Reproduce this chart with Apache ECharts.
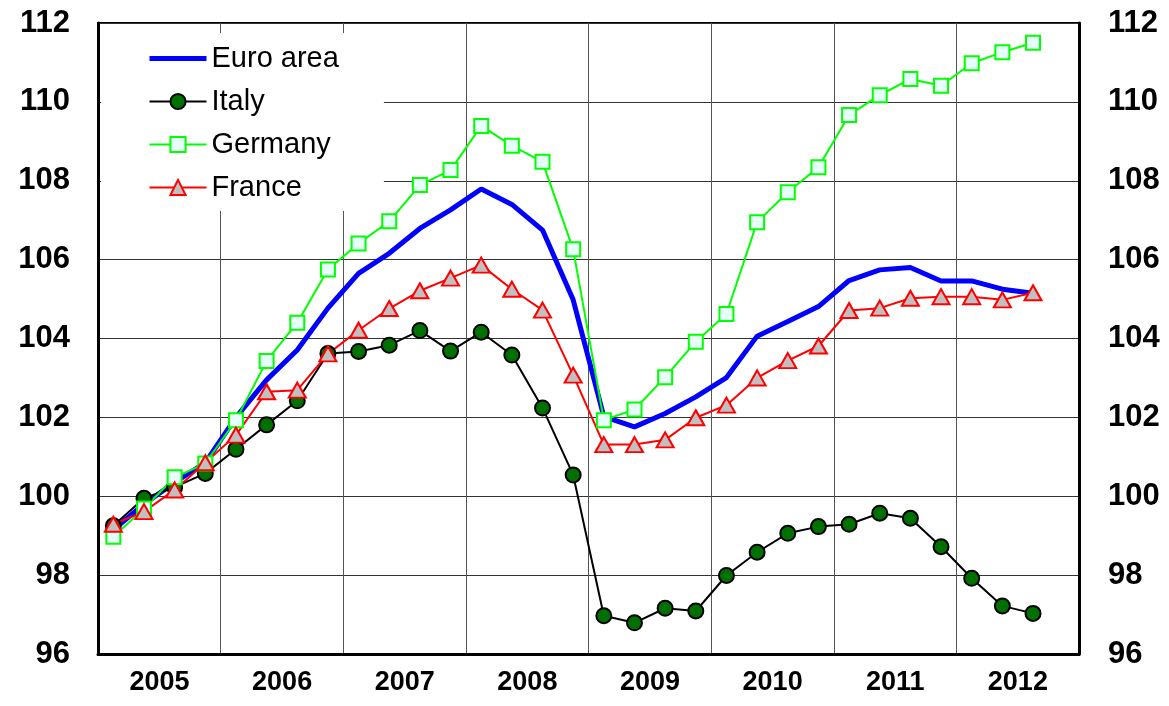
<!DOCTYPE html>
<html>
<head>
<meta charset="utf-8">
<script src="https://cdn.jsdelivr.net/npm/echarts@6/dist/echarts.min.js"></script>
<style>
  html, body { margin: 0; padding: 0; background: #fff; }
  #main { width: 1169px; height: 706px; }
</style>
</head>
<body>
<div id="main"></div>
<script>
// years on the axis, each split into quarters
var years = ['2005', '2006', '2007', '2008', '2009', '2010', '2011', '2012'];
var quarterNames = ['Q1', 'Q2', 'Q3', 'Q4'];

// index values, 2005Q1 .. 2012Q3
var euroArea = [99.15, 99.8, 100.35, 100.85, 102.0, 102.95, 103.71, 104.77, 105.65, 106.16,
  106.79, 107.26, 107.79, 107.4, 106.75, 104.98, 102.02, 101.76, 102.1, 102.52,
  103.01, 104.06, 104.43, 104.81, 105.47, 105.74, 105.8, 105.46, 105.46, 105.25, 105.15];
var italy = [99.25, 99.95, 100.23, 100.58, 101.19, 101.81, 102.42, 103.62, 103.67, 103.83,
  104.2, 103.68, 104.16, 103.58, 102.24, 100.54, 96.97, 96.79, 97.16, 97.09,
  97.99, 98.58, 99.06, 99.23, 99.29, 99.57, 99.44, 98.72, 97.92, 97.22, 97.03];
var germany = [98.97, 99.69, 100.48, 100.83, 101.93, 103.43, 104.4, 105.75, 106.41, 106.97,
  107.89, 108.27, 109.39, 108.89, 108.48, 106.26, 101.93, 102.2, 103.02, 103.92,
  104.62, 106.95, 107.71, 108.34, 109.67, 110.17, 110.58, 110.41, 110.98, 111.26, 111.5];
var france = [99.29, 99.61, 100.16, 100.85, 101.55, 102.65, 102.69, 103.61, 104.21, 104.76,
  105.21, 105.53, 105.86, 105.25, 104.72, 103.07, 101.31, 101.31, 101.43, 101.99,
  102.31, 103.0, 103.44, 103.81, 104.71, 104.77, 105.02, 105.06, 105.06, 104.98, 105.16];

var quarters = [];
years.forEach(function (y) {
  quarterNames.forEach(function (q) { quarters.push(y + q); });
});

var myChart = echarts.init(document.getElementById('main'));

var yLabel = {
  fontFamily: 'Liberation Sans, Arial, sans-serif',
  fontWeight: 'bold',
  fontSize: 31,
  color: '#000'
};

var option = {
  animation: false,
  backgroundColor: '#fff',
  grid: {
    left: 98, right: 90, top: 23, bottom: 52,
    show: true, borderColor: '#000', borderWidth: 2
  },
  legend: {
    orient: 'vertical',
    left: 101,
    top: 33,
    backgroundColor: '#fff',
    padding: [11, 45, 9, 46],
    itemWidth: 57,
    itemHeight: 19,
    itemGap: 14,
    lineStyle: { width: 2 },
    textStyle: {
      fontFamily: 'Liberation Sans, Arial, sans-serif',
      fontSize: 29,
      color: '#000'
    },
    data: [
      // blue line only, hide the marker
      { name: 'Euro area', itemStyle: { opacity: 0 }, lineStyle: { width: 5 } },
      { name: 'Italy', itemStyle: { borderWidth: 2 }, lineStyle: { width: 2 } },
      { name: 'Germany', itemStyle: { borderWidth: 2 }, lineStyle: { width: 2 } },
      { name: 'France', itemStyle: { borderWidth: 2 }, lineStyle: { width: 2 } }
    ]
  },
  xAxis: {
    type: 'category',
    data: quarters,
    boundaryGap: true,
    axisLine: { lineStyle: { color: '#000', width: 3 } },
    axisTick: { interval: 0, inside: true, length: 9, lineStyle: { color: '#808080', width: 1 } },
    axisLabel: {
      interval: function (i) { return i % 4 === 1; },
      formatter: function (v) { return v.slice(0, 4); },
      padding: [0, 0, 0, 31],
      margin: 15,
      fontFamily: 'Liberation Sans, Arial, sans-serif',
      fontWeight: 'bold',
      fontSize: 27,
      color: '#000'
    },
    splitLine: {
      show: true,
      interval: function (i) { return i % 4 === 0; },
      lineStyle: { color: '#555', width: 1 }
    }
  },
  yAxis: [{
    type: 'value',
    min: 96, max: 112, interval: 2,
    axisLine: { show: true, lineStyle: { color: '#000', width: 3 } },
    axisTick: { show: false },
    axisLabel: Object.assign({ margin: 28 }, yLabel),
    splitLine: { lineStyle: { color: '#333', width: 1 } }
  }, {
    type: 'value',
    position: 'right',
    min: 96, max: 112, interval: 2,
    axisLine: { show: true, lineStyle: { color: '#000', width: 3 } },
    axisTick: { show: false },
    axisLabel: Object.assign({ margin: 29 }, yLabel),
    splitLine: { show: false }
  }],
  series: [{
    name: 'Euro area',
    type: 'line',
    data: euroArea,
    symbol: 'none',
    lineStyle: { color: '#0000ff', width: 5 },
    itemStyle: { color: '#0000ff' }
  }, {
    name: 'Italy',
    type: 'line',
    data: italy,
    symbol: 'circle',
    symbolSize: 15,
    showAllSymbol: true,
    lineStyle: { color: '#000', width: 2 },
    itemStyle: { color: '#007000', borderColor: '#000', borderWidth: 2 }
  }, {
    name: 'Germany',
    type: 'line',
    data: germany,
    symbol: 'rect',
    symbolSize: 14,
    showAllSymbol: true,
    lineStyle: { color: '#00ff00', width: 2 },
    itemStyle: { color: '#e6fffa', borderColor: '#00ff00', borderWidth: 2 }
  }, {
    name: 'France',
    type: 'line',
    data: france,
    symbol: 'triangle',
    symbolSize: [17, 15],
    showAllSymbol: true,
    lineStyle: { color: '#ff0000', width: 2 },
    itemStyle: { color: '#c0c0c0', borderColor: '#ff0000', borderWidth: 2 }
  }]
};

myChart.setOption(option);
</script>
</body>
</html>
